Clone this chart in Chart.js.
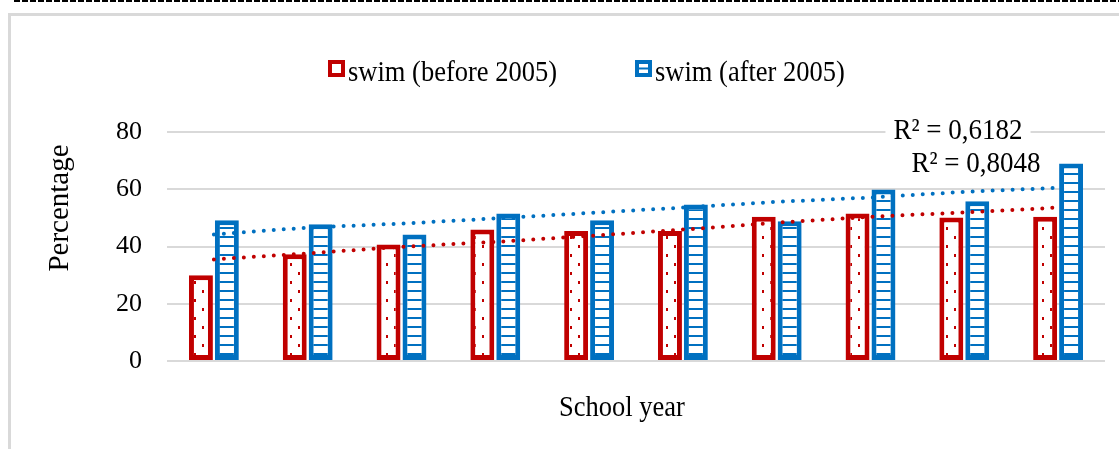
<!DOCTYPE html>
<html>
<head>
<meta charset="utf-8">
<script src="https://cdn.jsdelivr.net/npm/chart.js@4.4.1/dist/chart.umd.min.js"></script>
<style>
    html, body { margin: 0; padding: 0; background: #fff; }
    #wrap { position: relative; width: 1119px; height: 449px; overflow: hidden; }
    #dash { position: absolute; left: 14px; top: 0; width: 1105px; height: 2px;
            background: repeating-linear-gradient(to right, #000 0 6px, transparent 6px 8px); }
    #frame { position: absolute; left: 8px; top: 13px; width: 1200px; height: 500px;
             border: 3px solid #d9d9d9; box-sizing: border-box; }
    #myChart { position: absolute; left: 0; top: 0; }
</style>
</head>
<body>
<div id="wrap">
    <div id="dash"></div>
    <div id="frame"></div>
    <canvas id="myChart" width="1119" height="449"></canvas>
</div>
<script>
// datos
var cursos = ['1', '2', '3', '4', '5', '6', '7', '8', '9', '10'];
var antes2005 = [30, 37.3, 40.7, 45.9, 45.4, 45.4, 50.4, 51.5, 50.1, 50.4];
var despues2005 = [49.2, 47.8, 44.2, 51.5, 49.2, 54.7, 48.8, 59.9, 55.8, 69];
var tendenciaAntes = [35.5, 37.6, 39.9, 41.6, 43.7, 45.9, 48.3, 50.4, 51.9, 53.6];
var tendenciaDespues = [44.2, 46.6, 48.0, 49.8, 51.7, 53.6, 55.6, 57.1, 59.1, 60.5];
var ticksY = [0, 20, 40, 60, 80];
var r2Antes = 'R² = 0,8048';
var r2Despues = 'R² = 0,6182';

var ROJO = '#C00000';
var AZUL = '#0070C0';
var FUENTE = '"Liberation Serif", "Times New Roman", serif';

var ctx = document.getElementById('myChart').getContext('2d');

// patron de puntos (rojo)
function patronPuntos() {
    var c = document.createElement('canvas');
    c.width = 16; c.height = 18;
    var g = c.getContext('2d');
    g.fillStyle = '#fff';
    g.fillRect(0, 0, 16, 18);
    g.fillStyle = ROJO;
    g.fillRect(10, 2, 2, 3);
    g.fillRect(2, 11, 2, 3);
    return ctx.createPattern(c, 'repeat');
}

// patron de rayas horizontales (azul)
function patronRayas() {
    var c = document.createElement('canvas');
    c.width = 8; c.height = 9;
    var g = c.getContext('2d');
    g.fillStyle = '#fff';
    g.fillRect(0, 0, 8, 9);
    g.fillStyle = AZUL;
    g.fillRect(0, 2, 8, 2);
    return ctx.createPattern(c, 'repeat');
}

// texto un poco estirado en vertical, como en el original
function texto(c, txt, x, y, escala) {
    c.save();
    c.translate(x, y);
    c.scale(1, escala);
    c.fillText(txt, 0, 0);
    c.restore();
}

// textos: leyenda, titulos de ejes y R2
var textos = {
    id: 'textos',
    afterDraw: function (chart) {
        var c = chart.ctx;
        c.save();
        // leyenda
        c.lineWidth = 4;
        c.fillStyle = '#fff';
        c.strokeStyle = ROJO;
        c.fillRect(330, 62, 13, 13);
        c.strokeRect(330, 62, 13, 13);
        c.strokeStyle = AZUL;
        c.fillRect(637, 62, 13, 13);
        c.strokeRect(637, 62, 13, 13);
        c.fillStyle = AZUL;
        c.fillRect(637, 67.5, 13, 2);

        c.fillStyle = '#000';
        c.font = '26.5px ' + FUENTE;
        c.textBaseline = 'alphabetic';
        c.textAlign = 'left';
        texto(c, 'swim (before 2005)', 348, 81, 1.12);
        texto(c, 'swim (after 2005)', 655, 81, 1.12);

        // titulo eje x
        c.textAlign = 'center';
        texto(c, 'School year', 622, 416, 1.12);

        // titulo eje y
        c.save();
        c.translate(68, 208);
        c.rotate(-Math.PI / 2);
        c.font = '29px ' + FUENTE;
        c.scale(1, 1.05);
        c.fillText('Percentage', 0, 0);
        c.restore();

        // etiquetas R2
        c.font = '27px ' + FUENTE;
        var w1 = c.measureText(r2Despues).width;
        c.fillStyle = '#fff';
        c.fillRect(958 - w1 / 2 - 8, 116, w1 + 16, 26);
        c.fillStyle = '#000';
        texto(c, r2Despues, 958, 139, 1.1);
        texto(c, r2Antes, 976, 172, 1.1);
        c.restore();
    }
};

new Chart(ctx, {
    type: 'bar',
    data: {
        labels: cursos,
        datasets: [{
                type: 'line',
                label: 'tendencia antes',
                data: tendenciaAntes,
                borderColor: ROJO,
                borderWidth: 4,
                borderDash: [0, 10],
                borderCapStyle: 'round',
                pointRadius: 0,
                fill: false,
                tension: 0,
                order: 0
            },
            {
                type: 'line',
                label: 'tendencia despues',
                data: tendenciaDespues,
                borderColor: AZUL,
                borderWidth: 4,
                borderDash: [0, 10],
                borderCapStyle: 'round',
                pointRadius: 0,
                fill: false,
                tension: 0,
                order: 0
            },
            {
                label: 'swim (before 2005)',
                data: antes2005,
                backgroundColor: patronPuntos(),
                borderColor: ROJO,
                borderWidth: 5,
                borderSkipped: false,
                categoryPercentage: 0.553,
                barPercentage: 0.923,
                order: 1
            },
            {
                label: 'swim (after 2005)',
                data: despues2005,
                backgroundColor: patronRayas(),
                borderColor: AZUL,
                borderWidth: 5,
                borderSkipped: false,
                categoryPercentage: 0.553,
                barPercentage: 0.923,
                order: 1
            }
        ]
    },
    options: {
        responsive: false,
        animation: false,
        layout: {
            padding: {left: 0, right: 14, top: 132, bottom: 0}
        },
        plugins: {
            legend: {display: false},
            tooltip: {enabled: false}
        },
        scales: {
            x: {
                grid: {display: false},
                border: {display: false},
                ticks: {display: false},
                afterFit: function (scale) {
                    scale.height = 88;
                }
            },
            y: {
                min: 0,
                max: 80,
                afterBuildTicks: function (scale) {
                    scale.ticks = ticksY.map(function (v) {
                        return {value: v};
                    });
                },
                grid: {color: '#d9d9d9', lineWidth: 2, drawTicks: false},
                border: {display: false},
                ticks: {
                    color: '#000',
                    padding: 25,
                    font: {family: FUENTE, size: 26}
                },
                afterFit: function (scale) {
                    scale.width = 167;
                }
            }
        }
    },
    plugins: [textos]
});
</script>
</body>
</html>
